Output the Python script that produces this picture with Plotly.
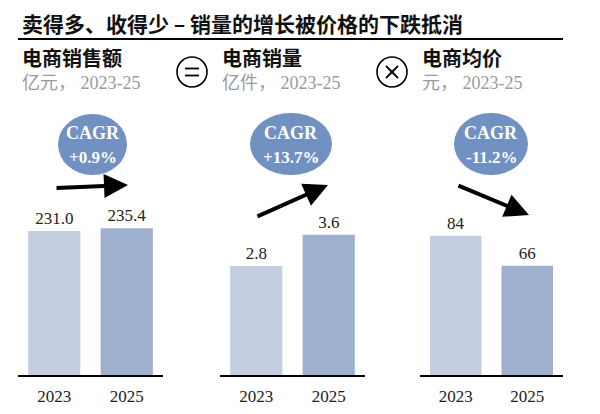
import plotly.graph_objects as go

W, H = 600, 414

# ---- data ----
years = ["2023", "2025"]
sales_value = [231.0, 235.4]      # 电商销售额 亿元
sales_volume = [2.8, 3.6]         # 电商销量 亿件
avg_price = [84, 66]              # 电商均价 元
value_labels = ["231.0", "235.4"]
volume_labels = ["2.8", "3.6"]
price_labels = ["84", "66"]
cagr_labels = ["+0.9%", "+13.7%", "-11.2%"]
panel_titles = ["电商销售额", "电商销量", "电商均价"]
panel_units = ["亿元， 2023-25", "亿件， 2023-25", "元， 2023-25"]
chart_title = "卖得多、收得少 – 销量的增长被价格的下跌抵消"


def X(px):
    return px / W


def Y(py):
    return 1 - py / H


CJK = "Noto Sans CJK SC"
SERIF = "Liberation Serif, Noto Sans CJK SC"
LIGHT = "#C3CEE1"
DARK = "#9DB0CE"
BUBBLE = "#7191C3"

fig = go.Figure()

panels = [
    (sales_value, value_labels, (18, 163), 449),
    (sales_volume, volume_labels, (220, 365), 7.19),
    (avg_price, price_labels, (420, 563), 169),
]

ydom = [Y(375), Y(95)]
for i, (vals, labels, (x0, x1), ymax) in enumerate(panels):
    suffix = "" if i == 0 else str(i + 1)
    fig.add_trace(go.Bar(
        x=years, y=vals, text=labels, textposition="outside",
        textfont=dict(family=SERIF, size=17, color="#222222"),
        marker=dict(color=[LIGHT, DARK], line=dict(width=0)),
        cliponaxis=False, showlegend=False, hoverinfo="skip",
        xaxis="x" + suffix, yaxis="y" + suffix,
    ))
    fig.update_layout({
        "xaxis" + suffix: dict(
            domain=[X(x0), X(x1)], anchor="y" + suffix, type="category",
            showline=True, linecolor="black", linewidth=2, showgrid=False,
            ticks="outside", ticklen=5, tickcolor="rgba(0,0,0,0)",
            tickfont=dict(family=SERIF, size=17, color="#222222"),
            zeroline=False, fixedrange=True,
        ),
        "yaxis" + suffix: dict(
            domain=ydom, anchor="x" + suffix, range=[0, ymax],
            visible=False, fixedrange=True,
        ),
    })

shapes = []
annotations = []

# title and rule
annotations.append(dict(x=X(20), y=Y(23), xref="paper", yref="paper",
                        text="<b>" + chart_title + "</b>", showarrow=False,
                        xanchor="left", yanchor="middle",
                        font=dict(family=CJK, size=21, color="#111111")))
shapes.append(dict(type="line", xref="paper", yref="paper",
                   x0=X(18), x1=X(563), y0=Y(39), y1=Y(39),
                   line=dict(color="black", width=2)))

# panel headers
header_x = [20, 220, 420]
for hx, t, u in zip(header_x, panel_titles, panel_units):
    annotations.append(dict(x=X(hx), y=Y(58), xref="paper", yref="paper",
                            text="<b>" + t + "</b>", showarrow=False,
                            xanchor="left", yanchor="middle",
                            font=dict(family=CJK, size=20, color="#111111")))
    annotations.append(dict(x=X(hx), y=Y(83), xref="paper", yref="paper",
                            text=u, showarrow=False,
                            xanchor="left", yanchor="middle",
                            font=dict(family=SERIF, size=18, color="#9B9B9B")))

# operator circles
for cx in (192, 392):
    shapes.append(dict(type="circle", xref="paper", yref="paper",
                       x0=X(cx - 15), x1=X(cx + 15), y0=Y(72 - 15), y1=Y(72 + 15),
                       line=dict(color="black", width=1.6)))
# "="
for yy in (68.5, 75.5):
    shapes.append(dict(type="line", xref="paper", yref="paper",
                       x0=X(185), x1=X(199), y0=Y(yy), y1=Y(yy),
                       line=dict(color="black", width=1.8)))
# "x"
shapes.append(dict(type="line", xref="paper", yref="paper",
                   x0=X(386), x1=X(398), y0=Y(66), y1=Y(78),
                   line=dict(color="black", width=1.8)))
shapes.append(dict(type="line", xref="paper", yref="paper",
                   x0=X(386), x1=X(398), y0=Y(78), y1=Y(66),
                   line=dict(color="black", width=1.8)))

# CAGR bubbles
bubbles = [(58, 127, 114, 175), (250, 332, 113, 175), (454, 528, 113, 175)]
for (bx0, bx1, by0, by1), lab in zip(bubbles, cagr_labels):
    shapes.append(dict(type="circle", xref="paper", yref="paper",
                       x0=X(bx0), x1=X(bx1), y0=Y(by1), y1=Y(by0),
                       fillcolor=BUBBLE, line=dict(width=0), layer="above"))
    cx = (bx0 + bx1) / 2
    annotations.append(dict(x=X(cx), y=Y(133), xref="paper", yref="paper",
                            text="<b>CAGR</b>", showarrow=False,
                            xanchor="center", yanchor="middle",
                            font=dict(family=SERIF, size=18, color="white")))
    annotations.append(dict(x=X(cx), y=Y(157), xref="paper", yref="paper",
                            text="<b>" + lab + "</b>", showarrow=False,
                            xanchor="center", yanchor="middle",
                            font=dict(family=SERIF, size=17, color="white")))

# trend arrows (tail -> tip)
arrows = [((55, 188), (128, 185)), ((256, 217), (328, 185)), ((457, 185), (529, 215))]
for (tx, ty), (hx, hy) in arrows:
    annotations.append(dict(x=X(hx), y=Y(hy), xref="paper", yref="paper",
                            ax=tx - hx, ay=ty - hy, axref="pixel", ayref="pixel",
                            text="", showarrow=True, arrowhead=2, arrowsize=1.2,
                            arrowwidth=4, arrowcolor="black", standoff=0))

fig.update_layout(
    width=W, height=H, margin=dict(l=0, r=0, t=0, b=0),
    paper_bgcolor="white", plot_bgcolor="rgba(0,0,0,0)",
    bargap=0.28, shapes=shapes, annotations=annotations,
    showlegend=False,
)

fig.write_html("out.html", config={"displayModeBar": False})
